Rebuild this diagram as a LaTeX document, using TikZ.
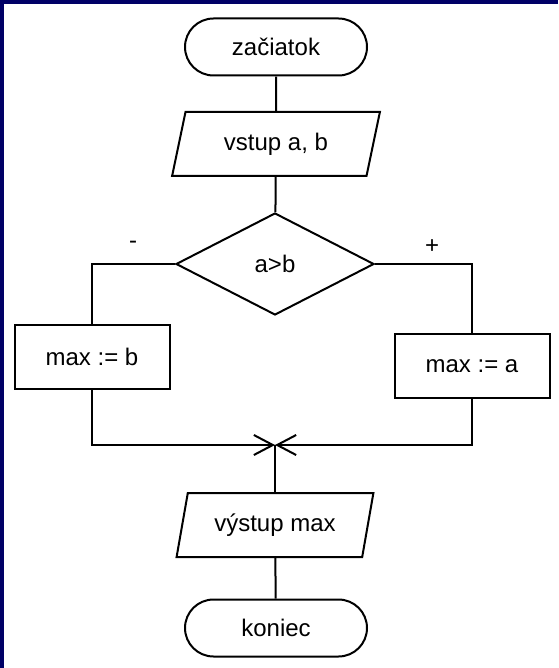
\documentclass[tikz,border=0pt]{standalone}
\usepackage{fontspec}
\setmainfont{Liberation Sans}
\usetikzlibrary{shapes.geometric}
\usetikzlibrary{shapes.misc}
\usetikzlibrary{arrows.meta}
\definecolor{framecol}{RGB}{0,0,102}
\tikzset{
% Two node styles for flowcharts: terminal and plain box
terminal node/.style={rounded rectangle,draw,line width=2,minimum width=182,minimum height=57,inner sep=0},
box node/.style={rectangle,draw,line width=2,minimum width=155,minimum height=64,inner sep=0}
}

\begin{document}
\begin{tikzpicture}[x=1pt,y=-1pt,font=\fontsize{24}{28}\selectfont,line width=2]
		% Two more node styles: data and decision
		\tikzstyle{data node}=[trapezium,trapezium left angle=71,trapezium right angle=109,trapezium stretches=true,draw,line width=2,minimum width=208,minimum height=64,inner sep=0];
		\tikzstyle{test node}=[diamond,draw,line width=2,minimum width=198,minimum height=102,inner sep=0];
		\tikzstyle{join tip}=[-{Straight Barb[length=19,width=20]}];
		% Frame
		\useasboundingbox (0,0) rectangle (558,668);
		\fill[white] (0,0) rectangle (558,668);
		\fill[framecol] (0,0) rectangle (558,4);
		\fill[framecol] (0,0) rectangle (4,668);
		% The chart
		\node(start)[terminal node] at (276,47) {začiatok};
		\node(input)[data node] at (276,144) {vstup a, b};
		\node(cond)[test node] at (275,264) {a>b};
		\node(mb)[box node] at (92,357) {max := b};
		\node(ma)[box node] at (472,366) {max := a};
		\coordinate(join) at (275,445);
		\node(output)[data node,minimum width=197] at (275,525) {výstup max};
		\node(stop)[terminal node] at (276,628) {koniec};
		% branch signs
		\node(minus) at (133,245) {-};
		\node(plus) at (432,247) {+};
		% connectors
		\draw (start) -- (input);
		\draw (input) -- (cond);
		\draw (cond.west) -| (mb.north);
		\draw (cond.east) -| (ma.north);
		\draw[join tip] (mb.south) |- (join);
		\draw[join tip] (ma.south) |- (join);
		\draw (join) -- (output);
		\draw (output) -- (stop);
	\end{tikzpicture}
\end{document}
